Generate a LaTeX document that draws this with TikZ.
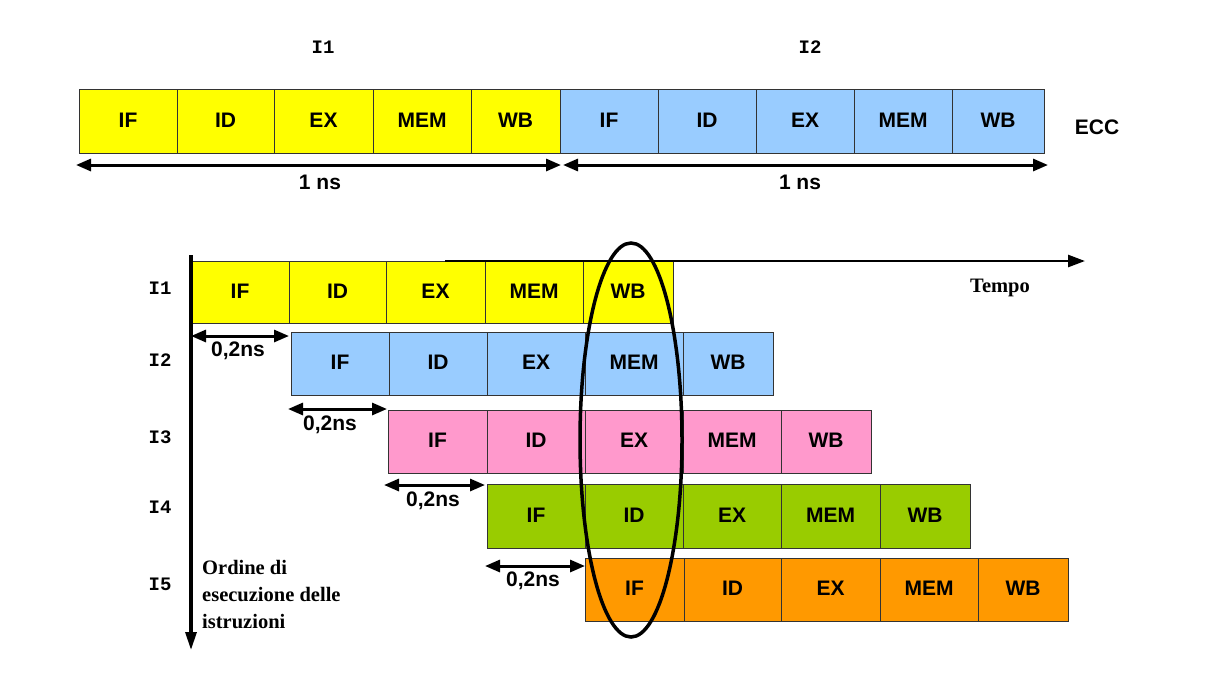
\documentclass[tikz,border=0pt]{standalone}
\usepackage{fontspec}
\setmainfont{Liberation Serif}
\setsansfont{Liberation Sans}
\setmonofont{Liberation Mono}
\usetikzlibrary{arrows.meta}
\definecolor{cy}{HTML}{FFFF00}
\definecolor{cb}{HTML}{99CCFF}
\definecolor{cp}{HTML}{FF99CC}
\definecolor{cg}{HTML}{99CC00}
\definecolor{co}{HTML}{FF9900}
\newcommand{\stg}[7]{\node[stage,fill=#2,minimum width={(#4-#3)*1pt},minimum height={(#6-#5)*1pt}] (#1) at ({(#3+#4)/2},{(#5+#6)/2}) {\raisebox{2pt}{#7}};}
\begin{document}
\begin{tikzpicture}[x=1pt,y=-1pt,
  stage/.style={draw=black!80, line width=0.8pt, inner sep=0pt, font=\sffamily\bfseries\fontsize{21}{24}\selectfont},
  dim/.style={{Triangle[length=15pt,width=12pt]}-{Triangle[length=15pt,width=12pt]}, line width=3pt},
  lbl/.style={font=\sffamily\bfseries\fontsize{21}{24}\selectfont, inner sep=0pt},
  ilbl/.style={font=\ttfamily\bfseries\fontsize{19}{20}\selectfont, inner sep=0pt},
  slbl/.style={font=\rmfamily\bfseries\fontsize{20.5}{27}\selectfont, inner sep=0pt}]
\useasboundingbox (0,0) rectangle (1217,673);
% top row
\stg{ya}{cy}{79}{177}{89}{153}{IF}
\stg{yb}{cy}{177}{274}{89}{153}{ID}
\stg{yc}{cy}{274}{373}{89}{153}{EX}
\stg{yd}{cy}{373}{471}{89}{153}{MEM}
\stg{ye}{cy}{471}{560}{89}{153}{WB}
\stg{ba}{cb}{560}{658}{89}{153}{IF}
\stg{bb}{cb}{658}{756}{89}{153}{ID}
\stg{bc}{cb}{756}{854}{89}{153}{EX}
\stg{bd}{cb}{854}{952}{89}{153}{MEM}
\stg{be}{cb}{952}{1044}{89}{153}{WB}
\node[ilbl] (t1) at (323,47) {I1};
\node[ilbl] (t2) at (810,47) {I2};
\node[lbl] (ecc) at (1097,127) {ECC};
\coordinate (a1) at (76,165);
\coordinate (a2) at (561,165);
\coordinate (a3) at (563,165);
\coordinate (a4) at (1048,165);
\draw[dim] (a1) -- (a2);
\draw[dim] (a3) -- (a4);
\node[lbl] (ns1) at (320,182) {1 ns};
\node[lbl] (ns2) at (800,182) {1 ns};
% pipeline rows
\stg{p1a}{cy}{191}{289}{261}{323}{IF}
\stg{p1b}{cy}{289}{386}{261}{323}{ID}
\stg{p1c}{cy}{386}{485}{261}{323}{EX}
\stg{p1d}{cy}{485}{583}{261}{323}{MEM}
\stg{p1e}{cy}{583}{673}{261}{323}{WB}
\stg{p2a}{cb}{291}{389}{332}{395}{IF}
\stg{p2b}{cb}{389}{487}{332}{395}{ID}
\stg{p2c}{cb}{487}{585}{332}{395}{EX}
\stg{p2d}{cb}{585}{683}{332}{395}{MEM}
\stg{p2e}{cb}{683}{773}{332}{395}{WB}
\stg{p3a}{cp}{388}{487}{410}{473}{IF}
\stg{p3b}{cp}{487}{585}{410}{473}{ID}
\stg{p3c}{cp}{585}{683}{410}{473}{EX}
\stg{p3d}{cp}{683}{781}{410}{473}{MEM}
\stg{p3e}{cp}{781}{871}{410}{473}{WB}
\stg{p4a}{cg}{487}{585}{484}{548}{IF}
\stg{p4b}{cg}{585}{683}{484}{548}{ID}
\stg{p4c}{cg}{683}{781}{484}{548}{EX}
\stg{p4d}{cg}{781}{880}{484}{548}{MEM}
\stg{p4e}{cg}{880}{970}{484}{548}{WB}
\stg{p5a}{co}{585}{684}{558}{621}{IF}
\stg{p5b}{co}{684}{781}{558}{621}{ID}
\stg{p5c}{co}{781}{880}{558}{621}{EX}
\stg{p5d}{co}{880}{978}{558}{621}{MEM}
\stg{p5e}{co}{978}{1068}{558}{621}{WB}
% axes
\coordinate (vt) at (191,255);
\coordinate (vb) at (191,650);
\coordinate (ht) at (445,261);
\coordinate (he) at (1085,261);
\draw[line width=3.2pt,-{Triangle[length=18pt,width=11pt]}] (vt) -- (vb);
\draw[line width=2.6pt,-{Triangle[length=17pt,width=12pt]}] (ht) -- (he);
\node[slbl] (tempo) at (1000,288) {Tempo};
\node[slbl,align=left,anchor=north west] (ord) at (202,560) {Ordine di\\esecuzione delle\\istruzioni};
% row labels
\node[ilbl] (r1) at (160,288) {I1};
\node[ilbl] (r2) at (160,360) {I2};
\node[ilbl] (r3) at (160,437) {I3};
\node[ilbl] (r4) at (160,507) {I4};
\node[ilbl] (r5) at (160,584) {I5};
% 0,2ns arrows
\coordinate (d1a) at (191,336);
\coordinate (d1b) at (289,336);
\coordinate (d2a) at (288,409);
\coordinate (d2b) at (387,409);
\coordinate (d3a) at (384,485);
\coordinate (d3b) at (485,485);
\coordinate (d4a) at (485,566);
\coordinate (d4b) at (585,566);
\draw[dim] (d1a) -- (d1b);
\draw[dim] (d2a) -- (d2b);
\draw[dim] (d3a) -- (d3b);
\draw[dim] (d4a) -- (d4b);
\node[lbl] (l1) at (238,351) {0,2ns};
\node[lbl] (l2) at (330,425) {0,2ns};
\node[lbl] (l3) at (433,501) {0,2ns};
\node[lbl] (l4) at (533,581) {0,2ns};
% selection ellipse
\draw[line width=3.5pt] (631,440) ellipse [x radius=51, y radius=197];
\end{tikzpicture}
\end{document}
